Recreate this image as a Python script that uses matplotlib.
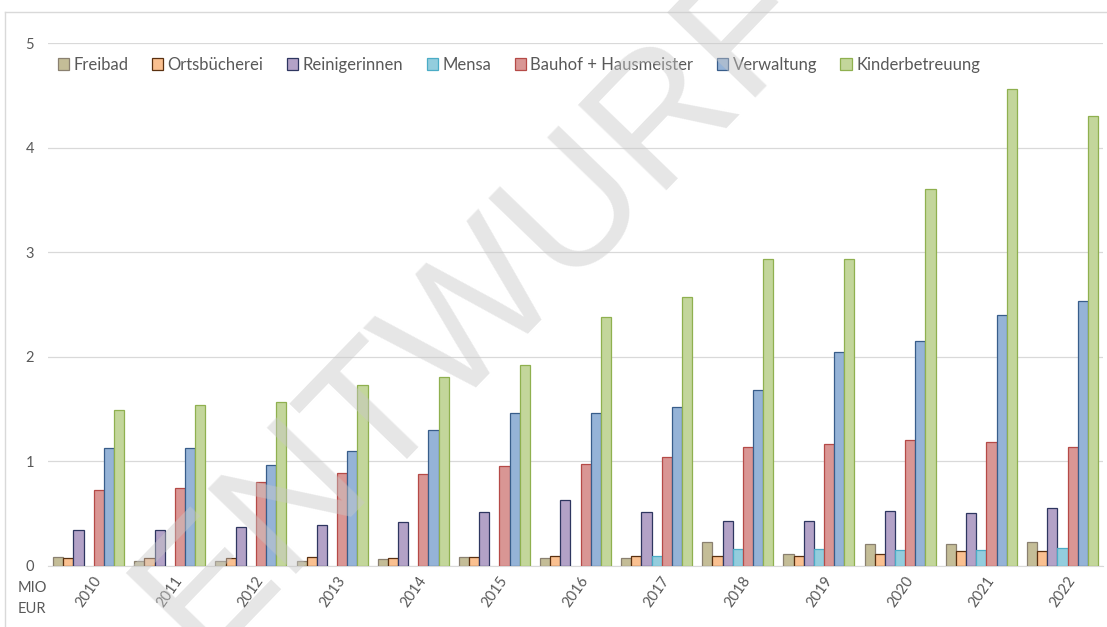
import numpy as np
import matplotlib.pyplot as plt
from matplotlib.lines import Line2D
from matplotlib.transforms import ScaledTranslation

plt.rcParams['font.family'] = ['Lato', 'DejaVu Sans']

years = ['2010', '2011', '2012', '2013', '2014', '2015', '2016',
         '2017', '2018', '2019', '2020', '2021', '2022']

freibad = [0.09, 0.05, 0.05, 0.05, 0.07, 0.09, 0.08, 0.08, 0.23, 0.11, 0.21, 0.21, 0.23]
ortsbuecherei = [0.08, 0.08, 0.08, 0.09, 0.08, 0.09, 0.10, 0.10, 0.10, 0.10, 0.11, 0.14, 0.14]
reinigerinnen = [0.34, 0.34, 0.37, 0.39, 0.42, 0.52, 0.63, 0.52, 0.43, 0.43, 0.53, 0.51, 0.55]
mensa = [0, 0, 0, 0, 0, 0, 0, 0.10, 0.16, 0.16, 0.15, 0.15, 0.17]
bauhof = [0.73, 0.75, 0.80, 0.89, 0.88, 0.96, 0.98, 1.04, 1.14, 1.17, 1.20, 1.19, 1.14]
verwaltung = [1.13, 1.13, 0.97, 1.10, 1.30, 1.46, 1.46, 1.52, 1.68, 2.05, 2.15, 2.40, 2.53]
kinderbetreuung = [1.49, 1.54, 1.57, 1.73, 1.81, 1.92, 2.38, 2.57, 2.94, 2.94, 3.60, 4.56, 4.30]

series = [
    ('Freibad', freibad, '#c4bd97', '#8a8070'),
    ('Ortsbücherei', ortsbuecherei, '#fac090', '#5a3010'),
    ('Reinigerinnen', reinigerinnen, '#b3a2c7', '#2e3660'),
    ('Mensa', mensa, '#93cddd', '#4bacc6'),
    ('Bauhof + Hausmeister', bauhof, '#d99694', '#b54a47'),
    ('Verwaltung', verwaltung, '#95b3d7', '#385d8a'),
    ('Kinderbetreuung', kinderbetreuung, '#c3d69b', '#8fb04f'),
]

grey = '#595959'
fig = plt.figure(figsize=(11.07, 6.27), dpi=100)
ax = fig.add_axes([0.0434, 0.0973, 0.953, 0.834])

x = np.arange(len(years))
w = 0.125
for j, (name, vals, fc, ec) in enumerate(series):
    lw = [0.9 if v > 0 else 0 for v in vals]
    ax.bar(x + (j - 3) * w, vals, width=w, color=fc, edgecolor=ec,
           linewidth=lw, label=name, zorder=3)

ax.set_xlim(-0.5, len(years) - 0.5)
ax.set_ylim(0, 5)
ax.set_yticks(range(6))
ax.yaxis.grid(True, color='#d9d9d9', linewidth=0.9, zorder=0)
for s in ['left', 'right', 'top']:
    ax.spines[s].set_visible(False)
ax.spines['bottom'].set_color('#d9d9d9')
ax.tick_params(axis='both', length=0, colors=grey, labelsize=10.5)
ax.tick_params(axis='y', pad=10)

ax.set_xticks(x)
ax.set_xticklabels(years, rotation=55, ha='right', va='center',
                   rotation_mode='anchor', fontsize=10.5)
for lab in ax.get_xticklabels():
    lab.set_transform(lab.get_transform() + ScaledTranslation(0.10, -0.07, fig.dpi_scale_trans))

fig.text(0.016, 1 - 581 / 627, 'MIO\nEUR', fontsize=10.5, color=grey, ha='left', va='top',
         linespacing=1.6)

handles = [plt.Rectangle((0, 0), 1, 1, fc=fc, ec=ec, lw=0.9) for _, _, fc, ec in series]
fig.legend(handles, [s[0] for s in series], loc='center left',
           bbox_to_anchor=(0.046, 1 - 65 / 627), ncol=7, frameon=False,
           fontsize=12, labelcolor=grey, handlelength=0.7, handleheight=0.7,
           handletextpad=0.25, columnspacing=1.4, borderaxespad=0)

# chart frame (top and left edges visible)
fig.add_artist(Line2D([5 / 1107, 5 / 1107], [0, 1 - 12 / 627], color='#d9d9d9', lw=1))
fig.add_artist(Line2D([5 / 1107, 1], [1 - 12 / 627, 1 - 12 / 627], color='#d9d9d9', lw=1))

# watermark
fig.text(0.43, 0.51, 'ENTWURF', fontsize=128, color='#c8c8c8', alpha=0.45,
         rotation=46, ha='center', va='center', family='Liberation Sans', zorder=10)

fig.savefig('out.png', dpi=100)
